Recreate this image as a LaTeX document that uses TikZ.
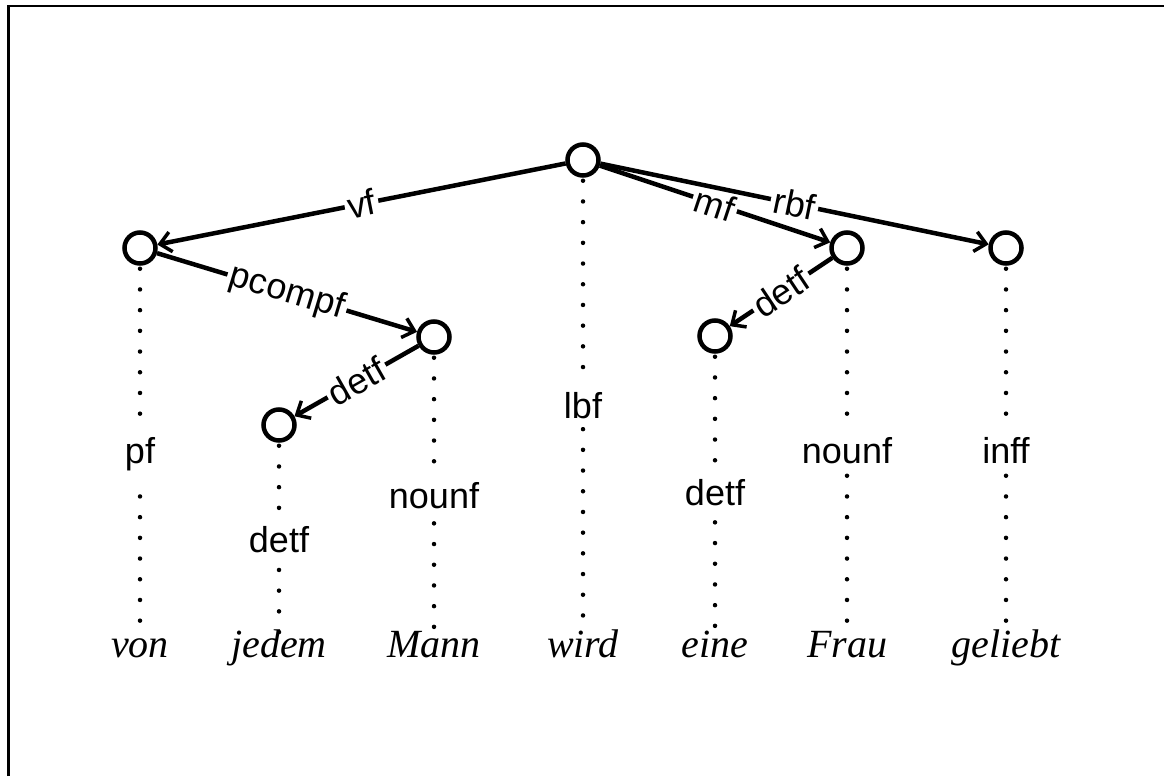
\documentclass[tikz,border=0pt]{standalone}
\usepackage{fontspec}
\setmainfont{Liberation Serif}
\setsansfont{Liberation Sans}
\usetikzlibrary{arrows.meta}
\begin{document}
\begin{tikzpicture}[x=1pt,y=-1pt,
  fnode/.style={circle,draw,line width=4.5pt,minimum size=31pt,inner sep=0pt},
  edge/.style={line width=4.5pt,-{Straight Barb[length=11pt,width=20pt,line width=3.5pt]}},
  elab/.style={midway,sloped,fill=white,inner sep=3pt,font=\fontsize{36}{40}\selectfont\sffamily},
  dots/.style={line width=4.5pt,line cap=round,dash pattern=on 0pt off 20.7pt},
  flab/.style={fill=white,inner sep=9pt,anchor=base,font=\fontsize{36}{40}\selectfont\sffamily},
  word/.style={anchor=base,inner sep=0pt,font=\fontsize{40}{44}\selectfont\itshape},
]
\useasboundingbox (0,0) rectangle (1164,776);
\draw[line width=2.4pt] (8.3,776) -- (8.3,6) -- (1164,6);

% words
\node[word] (w1) at (140,657) {von};
\node[word] (w2) at (279,657) {jedem};
\node[word] (w3) at (434,657) {Mann};
\node[word] (w4) at (583,657) {wird};
\node[word] (w5) at (715,657) {eine};
\node[word] (w6) at (847,657) {Frau};
\node[word] (w7) at (1006,657) {geliebt};

% tree nodes
\node[fnode] (root) at (583,160) {};
\node[fnode] (nvf) at (140,248) {};
\node[fnode] (npc) at (434,337) {};
\node[fnode] (ndl) at (279,425) {};
\node[fnode] (nmf) at (847,248) {};
\node[fnode] (ndr) at (715,336) {};
\node[fnode] (nrb) at (1006,248) {};

% dotted projection lines
\draw[dots] ([yshift=-3pt]nvf.south) -- (w1.north |- 0,636);
\draw[dots] ([yshift=-3pt]ndl.south) -- (w2.north |- 0,636);
\draw[dots] ([yshift=-3pt]npc.south) -- (w3.north |- 0,636);
\draw[dots] ([yshift=-3pt]root.south) -- (w4.north |- 0,636);
\draw[dots] ([yshift=-3pt]ndr.south) -- (w5.north |- 0,636);
\draw[dots] ([yshift=-3pt]nmf.south) -- (w6.north |- 0,636);
\draw[dots] ([yshift=-3pt]nrb.south) -- (w7.north |- 0,636);

% field labels
\node[flab] (l1) at (140,463) {pf};
\node[flab] (l2) at (279,552) {detf};
\node[flab] (l3) at (434,508) {nounf};
\node[flab] (l4) at (583,418) {lbf};
\node[flab] (l5) at (715,505) {detf};
\node[flab] (l6) at (847,463) {nounf};
\node[flab] (l7) at (1006,463) {inff};

% edges
\draw[edge] (root) -- node[elab] (e1) {vf} (nvf);
\draw[edge] (nvf) -- node[elab] (e2) {pcompf} (npc);
\draw[edge] (npc) -- node[elab] (e3) {detf} (ndl);
\draw[edge] (root) -- node[elab] (e4) {mf} (nmf);
\draw[edge] (root) -- node[elab] (e5) {rbf} (nrb);
\draw[edge] (nmf) -- node[elab] (e6) {detf} (ndr);
\end{tikzpicture}
\end{document}
